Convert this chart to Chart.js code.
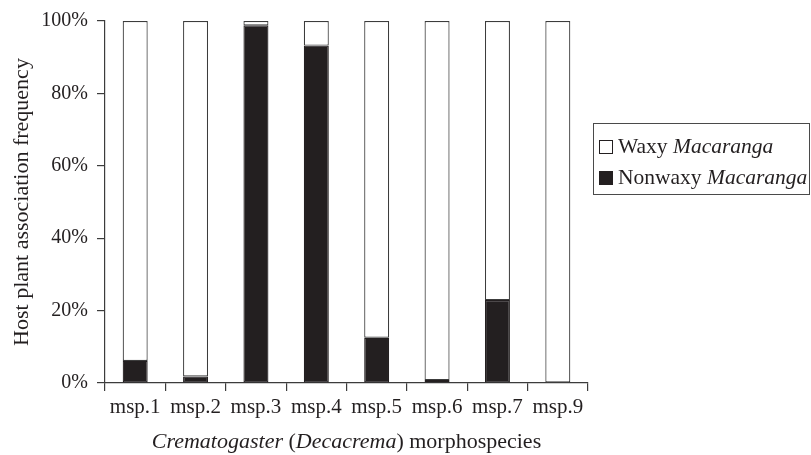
<!DOCTYPE html>
<html>
<head>
<meta charset="utf-8">
<script src="https://cdn.jsdelivr.net/npm/chart.js@4.4.0/dist/chart.umd.min.js"></script>
<style>
  body { margin: 0; background: #fff; }
  #wrap { position: relative; width: 811px; height: 455px; }
  #chart { position: absolute; left: 0; top: 0; }
  .txt { font-family: 'Liberation Serif', 'DejaVu Serif', serif; color: #231f20; }
  #xtitle { position: absolute; left: 105px; width: 483px; top: 428px; text-align: center; font-size: 22px; line-height: 26px; }
  #legend { position: absolute; left: 593px; top: 123px; width: 217px; height: 72px; box-sizing: border-box;
            border: 1.3px solid #4a4a4a; font-size: 21.5px; }
  #legend .row { position: absolute; left: 5px; height: 24px; line-height: 24px; white-space: nowrap; }
  #legend .sw { display: inline-block; width: 12px; height: 12px; border: 1px solid #231f20; margin-right: 5px; vertical-align: -1px; }
</style>
</head>
<body>
<div id="wrap">
  <canvas id="chart" width="811" height="455"></canvas>
  <div id="xtitle" class="txt"><i>Crematogaster</i> (<i>Decacrema</i>) morphospecies</div>
  <div id="legend" class="txt"></div>
</div>
<script>
// morphospecies and share of host plants (percent)
const categories = ['msp.1', 'msp.2', 'msp.3', 'msp.4', 'msp.5', 'msp.6', 'msp.7', 'msp.9']
const nonwaxy = [6.1, 1.8, 98.8, 93.2, 12.5, 0.8, 22.9, 0]
const waxy = [93.9, 98.2, 1.2, 6.8, 87.5, 99.2, 77.1, 100]
const yTicks = [0, 20, 40, 60, 80, 100]

const ink = '#231f20'
const lineCol = '#3c3c3c'
const serif = "'Liberation Serif', 'DejaVu Serif', serif"

const datasets = [
  { label: 'Nonwaxy', genus: 'Macaranga', data: nonwaxy, backgroundColor: ink, borderColor: ink },
  { label: 'Waxy', genus: 'Macaranga', data: waxy, backgroundColor: '#ffffff', borderColor: lineCol }
].map(d => Object.assign(d, { borderWidth: 1.2, borderSkipped: false, categoryPercentage: 1, barPercentage: 0.414 }))

// legend lists waxy first, like the stack reads top-down
const legend = document.getElementById('legend')
datasets.slice().reverse().forEach((d, i) => {
  const row = document.createElement('div')
  row.className = 'row'
  row.style.top = (10 + i * 31) + 'px'
  row.innerHTML = '<span class="sw" style="background:' + d.backgroundColor + '"></span>' + d.label + ' <i>' + d.genus + '</i>'
  legend.appendChild(row)
})

new Chart(document.getElementById('chart').getContext('2d'), {
  type: 'bar',
  data: { labels: categories, datasets },
  options: {
    responsive: false,
    animation: false,
    layout: { padding: { top: 17, right: 223, left: 0, bottom: 0 } },
    plugins: { legend: { display: false }, tooltip: { enabled: false } },
    scales: {
      x: {
        stacked: true,
        afterFit: s => { s.height = 72 },
        grid: { display: true, drawOnChartArea: false, drawTicks: true, tickLength: 8, offset: true, color: lineCol, lineWidth: 1.2 },
        border: { display: true, color: lineCol, width: 1.2 },
        ticks: { color: ink, font: { family: serif, size: 21 }, padding: 4, maxRotation: 0, autoSkip: false }
      },
      y: {
        stacked: true,
        min: 0,
        max: 100,
        afterFit: s => { s.width = 105 },
        afterBuildTicks: s => { s.ticks = yTicks.map(v => ({ value: v })) },
        grid: { display: true, drawOnChartArea: false, drawTicks: true, tickLength: 8, color: lineCol, lineWidth: 1.2 },
        border: { display: true, color: lineCol, width: 1.2 },
        ticks: { color: ink, font: { family: serif, size: 20 }, padding: 9, callback: v => v + '%' },
        title: { display: true, text: 'Host plant association frequency', color: ink, font: { family: serif, size: 22 }, padding: { top: 9, bottom: 0 } }
      }
    }
  }
})
</script>
</body>
</html>
